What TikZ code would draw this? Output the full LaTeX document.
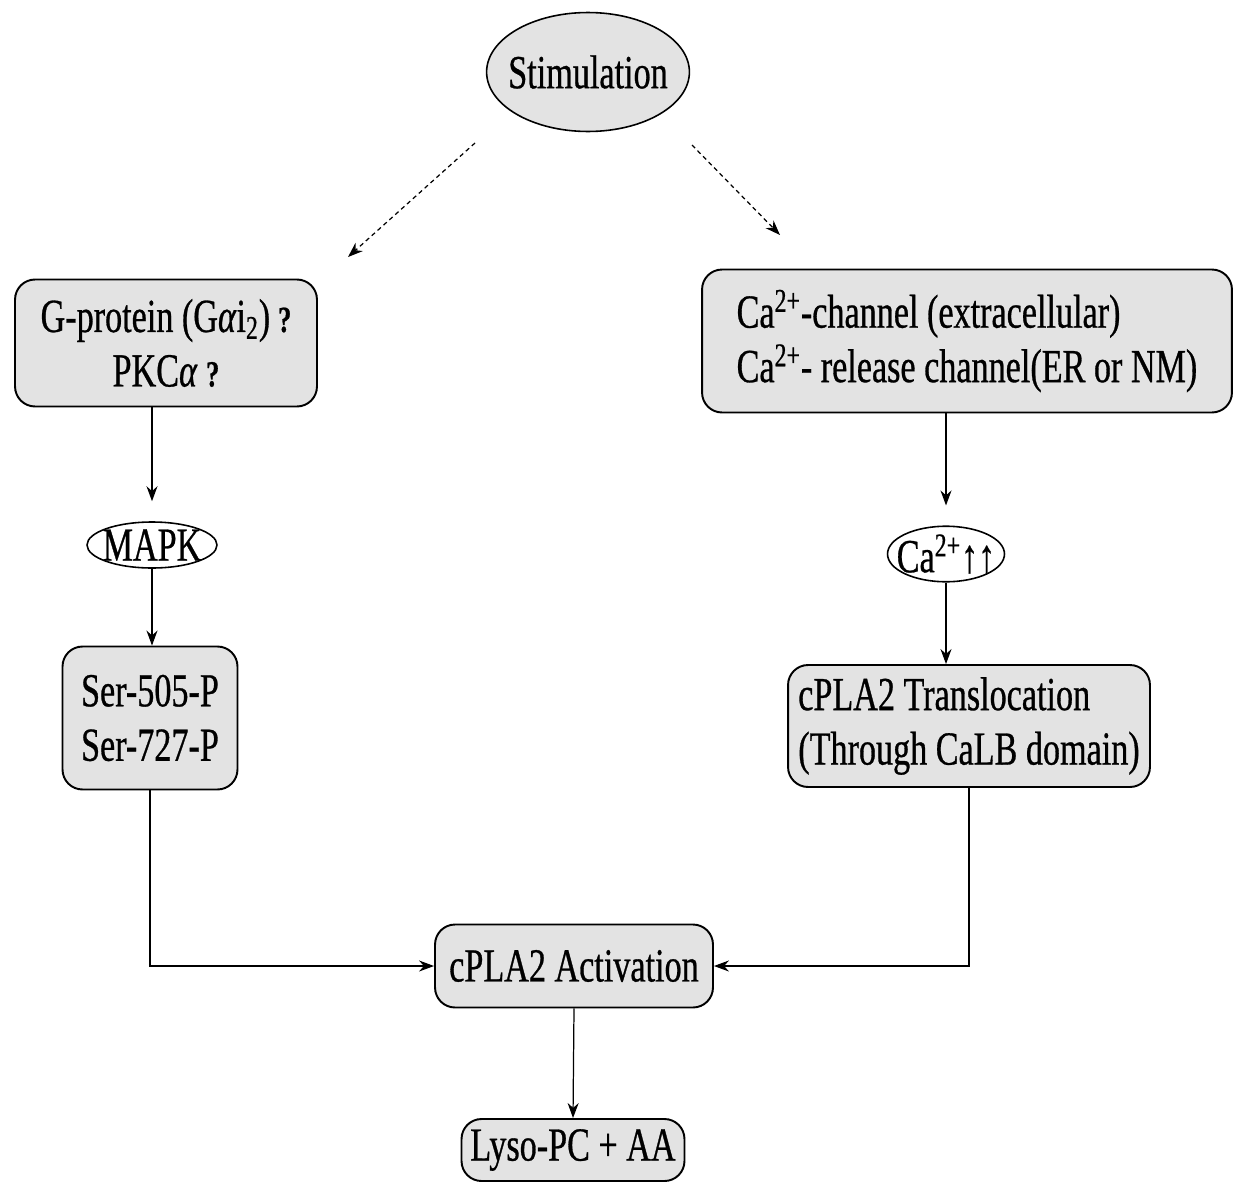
\documentclass[tikz,border=0pt]{standalone}
\usepackage{fontspec}
\setmainfont[FakeStretch=0.72, FakeBold=0.6]{Liberation Serif}
\usetikzlibrary{arrows.meta}
\usetikzlibrary{shapes.geometric}
\newcommand{\qmark}{{\fontsize{21}{22}\selectfont\bfseries ?}}

\begin{document}
\begin{tikzpicture}[x=0.02cm, y=-0.02cm,
  every node/.style={font=\fontsize{27}{31}\selectfont, inner sep=0pt},
  box/.style={draw, line width=1.1pt, rounded corners=0.4cm, fill=gray!22},
  oval/.style={draw, ellipse, line width=0.9pt},
  arr/.style={-{Stealth[length=3mm, width=2.2mm]}, line width=0.7pt},
  dots/.style={arr, dash pattern=on 2.5pt off 2pt}]
\useasboundingbox (0,0) rectangle (1237,1183);

% top
\node[oval, fill=gray!22, inner xsep=-0.16cm, minimum width=3.98cm, minimum height=2.38cm] (stim) at (588,72) {Stimulation};

% left branch
\node[box, align=center, minimum width=6.04cm, minimum height=2.54cm] (gprot) at (166,343)
  {G-protein (G\textit{α}i\textsubscript{2})\,\qmark\\PKC\textit{α} \qmark};
\node[oval, fill=white, inner xsep=-0.13cm, minimum width=2.6cm, minimum height=0.92cm] (mapk) at (152,545) {MAPK};
\node[box, align=center, minimum width=3.5cm, minimum height=2.86cm] (ser) at (150,718)
  {Ser-505-P\\Ser-727-P};

% right branch
\node[box, align=left, minimum width=10.6cm, minimum height=2.86cm] (cach) at (967,341)
  {Ca\textsuperscript{2+}-channel (extracellular)\\Ca\textsuperscript{2+}- release channel(ER or NM)};
\node[oval, fill=white, inner xsep=-0.17cm, minimum width=2.34cm, minimum height=0.96cm] (caup) at (946,554)
  {Ca\textsuperscript{2+}↑↑};
\node[box, align=left, minimum width=7.24cm, minimum height=2.44cm] (trans) at (969,726)
  {cPLA2 Translocation\\(Through CaLB domain)};

% bottom
\node[box, minimum width=5.56cm, minimum height=1.66cm] (activ) at (574,966) {cPLA2 Activation};
\node[box, minimum width=4.46cm, minimum height=1.24cm] (lyso) at (573,1150) {Lyso-PC + AA};

\coordinate (stimL) at (475,143);
\coordinate (gprotIn) at (348,257);
\coordinate (stimR) at (692,145);
\coordinate (cachIn) at (780,235);

\draw[dots] (stimL) -- (gprotIn);
\draw[dots] (stimR) -- (cachIn);

\draw[arr, shorten >=0.4cm] (mapk |- gprot.south) -- (mapk.north);
\draw[arr] (mapk.south) -- (mapk |- ser.north);
\draw[arr, shorten >=0.4cm] (caup |- cach.south) -- (caup.north);
\draw[arr] (caup.south) -- (caup |- trans.north);

\draw[arr] (ser.south) |- (activ.west);
\draw[arr] (trans.south) |- (activ.east);
\draw[arr] (activ.south) -- (lyso.north);

\end{tikzpicture}
\end{document}
